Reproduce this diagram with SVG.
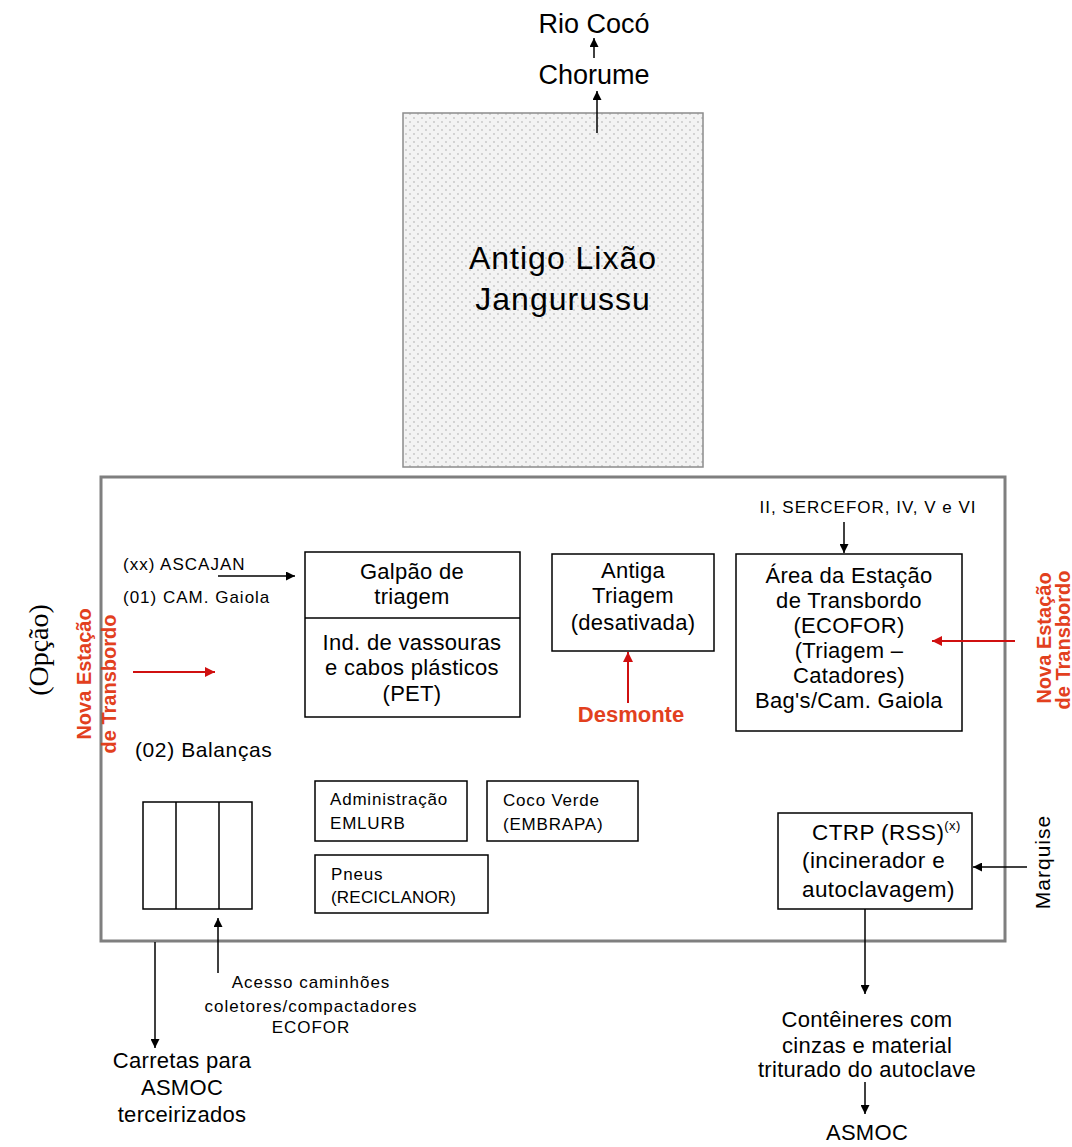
<svg xmlns="http://www.w3.org/2000/svg" width="1072" height="1147" viewBox="0 0 1072 1147">
  <defs>
    <style>
      .t { font-family: "Liberation Sans", Arial, sans-serif; fill: #000; }
      .c { text-anchor: middle; }
      .f27 { font-size: 27px; }
      .f32 { font-size: 32px; letter-spacing: 1px; }
      .f22 { font-size: 22px; letter-spacing: 0.3px; }
      .f17 { font-size: 17px; letter-spacing: 0.8px; }
      .red { font-family: "Liberation Sans", Arial, sans-serif; font-weight: bold; fill: #e2401e; }
      .box { fill: #fff; stroke: #000; stroke-width: 1.5; }
      .ln { stroke: #000; stroke-width: 1.5; fill: none; }
      .lnr { stroke: #d01010; stroke-width: 2; fill: none; }
    </style>
    <pattern id="dots" width="8" height="8" patternUnits="userSpaceOnUse">
      <rect width="8" height="8" fill="#f3f3f3"/>
      <circle cx="2" cy="2" r="0.9" fill="#c4c4c4"/>
      <circle cx="6" cy="6" r="0.9" fill="#c4c4c4"/>
    </pattern>
    <marker id="ah" viewBox="0 0 10 10" refX="10" refY="5" markerWidth="9" markerHeight="9" markerUnits="userSpaceOnUse" orient="auto">
      <path d="M0,0 L10,5 L0,10 z" fill="#000"/>
    </marker>
    <marker id="ahr" viewBox="0 0 10 10" refX="10" refY="5" markerWidth="10" markerHeight="10" markerUnits="userSpaceOnUse" orient="auto">
      <path d="M0,0 L10,5 L0,10 z" fill="#d01010"/>
    </marker>
  </defs>

  <rect width="1072" height="1147" fill="#fff"/>

  <!-- outflow labels above the landfill -->
  <g id="rio-coco"><text class="t c f27" x="594" y="33">Rio Cocó</text></g>
  <g id="chorume"><text class="t c f27" x="594" y="84">Chorume</text></g>

  <!-- old landfill -->
  <g id="lixao">
    <rect x="403" y="113" width="300" height="354" fill="url(#dots)" stroke="#8c8c8c" stroke-width="1.5"/>
    <text class="t c f32" x="563" y="269">Antigo Lixão</text>
    <text class="t c f32" x="563" y="310">Jangurussu</text>
  </g>

  <!-- site boundary -->
  <g id="site">
    <rect x="101" y="477" width="904" height="464" fill="none" stroke="#7f7f7f" stroke-width="3"/>
  </g>

  <g id="opcao">
    <text transform="translate(48,650) rotate(-90)" text-anchor="middle" font-family="'Liberation Serif', 'Times New Roman', serif" font-size="28" fill="#000">(Opção)</text>
  </g>

  <g id="nova-estacao-oeste">
    <text class="red" transform="translate(91,674) rotate(-90)" text-anchor="middle" font-size="20">Nova Estação</text>
    <text class="red" transform="translate(116,684) rotate(-90)" text-anchor="middle" font-size="20">de Transbordo</text>
  </g>

  <g id="nova-estacao-leste">
    <text class="red" transform="translate(1051,638) rotate(-90)" text-anchor="middle" font-size="20">Nova Estação</text>
    <text class="red" transform="translate(1070,640) rotate(-90)" text-anchor="middle" font-size="20">de Transbordo</text>
  </g>

  <g id="ascajan">
    <text class="t f17" x="123" y="570" style="letter-spacing:1px">(xx) ASCAJAN</text>
    <text class="t f17" x="123" y="603" style="letter-spacing:1px">(01) CAM. Gaiola</text>
  </g>

  <g id="galpao">
    <rect class="box" x="305" y="552" width="215" height="165"/>
    <line class="ln" x1="305" y1="618" x2="520" y2="618"/>
    <text class="t c f22" x="412" y="579">Galpão de</text>
    <text class="t c f22" x="412" y="604">triagem</text>
    <text class="t c f22" x="412" y="650">Ind. de vassouras</text>
    <text class="t c f22" x="412" y="675">e cabos plásticos</text>
    <text class="t c f22" x="412" y="701">(PET)</text>
  </g>

  <g id="antiga-triagem">
    <rect class="box" x="552" y="554" width="162" height="97"/>
    <text class="t c f22" x="633" y="578">Antiga</text>
    <text class="t c f22" x="633" y="603">Triagem</text>
    <text class="t c f22" x="633" y="630">(desativada)</text>
  </g>

  <g id="desmonte">
    <text class="red c" x="631" y="722" font-size="22">Desmonte</text>
  </g>

  <g id="sercefor">
    <text class="t c f17" x="868" y="513" style="letter-spacing:1px">II, SERCEFOR, IV, V e VI</text>
  </g>

  <g id="estacao-transbordo">
    <rect class="box" x="736" y="554" width="226" height="177"/>
    <text class="t c f22" x="849" y="583">Área da Estação</text>
    <text class="t c f22" x="849" y="608">de Transbordo</text>
    <text class="t c f22" x="849" y="633">(ECOFOR)</text>
    <text class="t c f22" x="849" y="658">(Triagem –</text>
    <text class="t c f22" x="849" y="683">Catadores)</text>
    <text class="t c f22" x="849" y="708">Bag's/Cam. Gaiola</text>
  </g>

  <g id="balancas">
    <text class="t" x="135" y="757" font-size="21" style="letter-spacing:0.6px">(02) Balanças</text>
    <rect class="box" x="143" y="802" width="109" height="107"/>
    <line class="ln" x1="176" y1="802" x2="176" y2="909"/>
    <line class="ln" x1="219" y1="802" x2="219" y2="909"/>
  </g>

  <g id="administracao">
    <rect class="box" x="315" y="781" width="152" height="60"/>
    <text class="t f17" x="330" y="805">Administração</text>
    <text class="t f17" x="330" y="829">EMLURB</text>
  </g>

  <g id="coco-verde">
    <rect class="box" x="487" y="781" width="151" height="60"/>
    <text class="t f17" x="503" y="806">Coco Verde</text>
    <text class="t f17" x="503" y="830">(EMBRAPA)</text>
  </g>

  <g id="pneus">
    <rect class="box" x="315" y="855" width="173" height="58"/>
    <text class="t f17" x="331" y="880">Pneus</text>
    <text class="t f17" x="331" y="903" style="letter-spacing:0.2px">(RECICLANOR)</text>
  </g>

  <g id="ctrp">
    <rect class="box" x="778" y="813" width="194" height="96"/>
    <text class="t" x="812" y="840" font-size="22.5" style="letter-spacing:0.4px">CTRP (RSS)<tspan font-size="13" dy="-10">(x)</tspan></text>
    <text class="t" x="802" y="868" font-size="22.5" style="letter-spacing:0.4px">(incinerador e</text>
    <text class="t" x="802" y="897" font-size="22.5" style="letter-spacing:0.4px">autoclavagem)</text>
  </g>

  <g id="marquise">
    <text class="t" transform="translate(1050,862) rotate(-90)" text-anchor="middle" font-size="21" style="letter-spacing:1px">Marquise</text>
  </g>

  <g id="acesso">
    <text class="t c f17" x="311" y="988" style="letter-spacing:1px">Acesso caminhões</text>
    <text class="t c f17" x="311" y="1012" style="letter-spacing:1px">coletores/compactadores</text>
    <text class="t c f17" x="311" y="1033" style="letter-spacing:1px">ECOFOR</text>
  </g>

  <g id="carretas">
    <text class="t c f22" x="182" y="1068">Carretas para</text>
    <text class="t c f22" x="182" y="1095">ASMOC</text>
    <text class="t c f22" x="182" y="1122">terceirizados</text>
  </g>

  <g id="conteineres">
    <text class="t c f22" x="867" y="1027">Contêineres com</text>
    <text class="t c f22" x="867" y="1053">cinzas e material</text>
    <text class="t c f22" x="867" y="1077">triturado do autoclave</text>
  </g>

  <g id="asmoc">
    <text class="t c f22" x="867" y="1140">ASMOC</text>
  </g>

  <!-- connectors -->
  <g id="connectors">
    <line class="ln" x1="594" y1="58" x2="594" y2="38" marker-end="url(#ah)"/>
    <line class="ln" x1="597" y1="133" x2="597" y2="91" marker-end="url(#ah)"/>
    <line class="ln" x1="218" y1="576" x2="295" y2="576" marker-end="url(#ah)"/>
    <line class="lnr" x1="133" y1="672" x2="215" y2="672" marker-end="url(#ahr)"/>
    <line class="lnr" x1="628" y1="703" x2="628" y2="652" marker-end="url(#ahr)"/>
    <line class="ln" x1="844" y1="522" x2="844" y2="553" marker-end="url(#ah)"/>
    <line class="lnr" x1="1015" y1="641" x2="932" y2="641" marker-end="url(#ahr)"/>
    <line class="ln" x1="1027" y1="867" x2="973" y2="867" marker-end="url(#ah)"/>
    <line class="ln" x1="865" y1="909" x2="865" y2="994" marker-end="url(#ah)"/>
    <line class="ln" x1="865" y1="1082" x2="865" y2="1114" marker-end="url(#ah)"/>
    <line class="ln" x1="155" y1="942" x2="155" y2="1048" marker-end="url(#ah)"/>
    <line class="ln" x1="218" y1="973" x2="218" y2="918" marker-end="url(#ah)"/>
  </g>
</svg>
